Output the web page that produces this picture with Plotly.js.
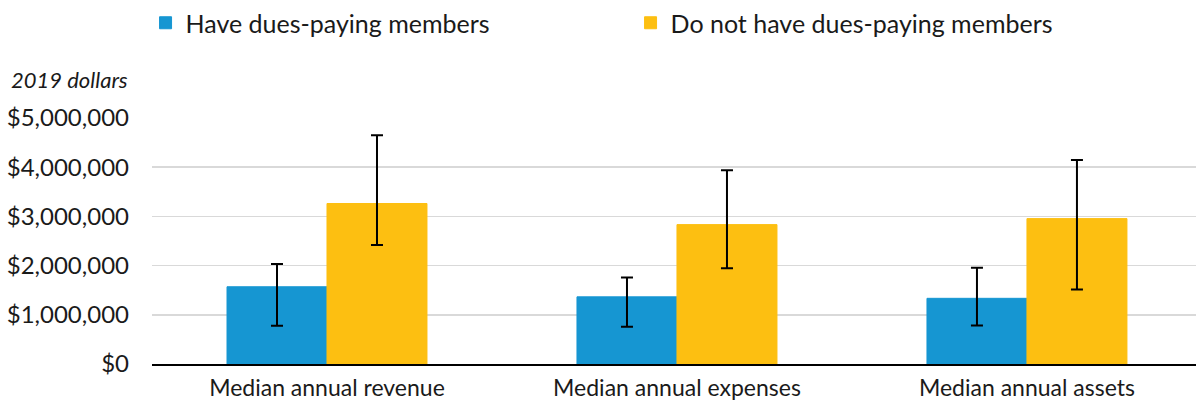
<!DOCTYPE html>
<html>
<head>
<meta charset="utf-8">
<script src="https://cdn.plot.ly/plotly-3.0.1.min.js"></script>
<style>
html,body{margin:0;padding:0;background:#fff;}
#chart{width:1196px;height:407px;}
</style>
</head>
<body>
<div id="chart"></div>
<script>
// Data (2019 dollars)
const categories = ["Median annual revenue", "Median annual expenses", "Median annual assets"];
const seriesNames = ["Have dues-paying members", "Do not have dues-paying members"];
const haveValues = [1570000, 1365000, 1335000];
const haveUpper  = [2030000, 1760000, 1957000];
const haveLower  = [775000, 755000, 782000];
const notValues  = [3262000, 2833000, 2955000];
const notUpper   = [4650000, 3940000, 4145000];
const notLower   = [2420000, 1944000, 1516000];
const yTickVals  = [0, 1000000, 2000000, 3000000, 4000000, 5000000];
const yTickText  = ["$0", "$1,000,000", "$2,000,000", "$3,000,000", "$4,000,000", "$5,000,000"];

const colors = ["#1696d2", "#fdbf11"];

function diff(a, b) { return a.map((v, i) => v - b[i]); }

const traces = [
  {
    type: "bar", name: seriesNames[0], x: categories, y: haveValues,
    marker: { color: colors[0], line: { color: colors[0], width: 1 } },
    error_y: { type: "data", symmetric: false, array: diff(haveUpper, haveValues),
               arrayminus: diff(haveValues, haveLower), color: "#000", thickness: 2, width: 6 },
    hoverinfo: "skip"
  },
  {
    type: "bar", name: seriesNames[1], x: categories, y: notValues,
    marker: { color: colors[1], line: { color: colors[1], width: 1 } },
    error_y: { type: "data", symmetric: false, array: diff(notUpper, notValues),
               arrayminus: diff(notValues, notLower), color: "#000", thickness: 2, width: 6 },
    hoverinfo: "skip"
  }
];

const layout = {
  width: 1196, height: 407,
  margin: { l: 152, r: 0, t: 118, b: 43, pad: 0 },
  paper_bgcolor: "#fff", plot_bgcolor: "#fff",
  font: { family: "Lato, 'Open Sans', sans-serif", color: "#1a1a1a", size: 21 },
  barmode: "group", bargap: 0.4286, bargroupgap: 0,
  showlegend: true,
  legend: {
    orientation: "h", xref: "container", yref: "container",
    x: 0.1217, xanchor: "left", y: 1.0, yanchor: "top",
    font: { size: 25, color: "#1a1a1a" },
    entrywidth: 440, entrywidthmode: "pixels",
    bgcolor: "rgba(0,0,0,0)"
  },
  xaxis: {
    type: "category", range: [-0.5, 2.483], fixedrange: true,
    showgrid: false, showline: true, linecolor: "#000", linewidth: 2,
    ticks: "", tickfont: { size: 23, color: "#1a1a1a" }, ticklabelstandoff: 2
  },
  yaxis: {
    range: [0, 5000000], fixedrange: true,
    tickvals: yTickVals, ticktext: yTickText,
    showgrid: true, gridcolor: "#d9d9d9", gridwidth: 1.5,
    zeroline: false, showline: false, ticks: "",
    tickfont: { size: 24, color: "#1a1a1a" }, ticklabelstandoff: 22
  },
  annotations: [
    { text: "<i>2019 dollars</i>", xref: "paper", yref: "paper", x: -0.021, y: 1.158,
      xanchor: "right", yanchor: "middle", showarrow: false,
      font: { size: 22, color: "#1a1a1a" } }
  ]
};

Plotly.newPlot("chart", traces, layout, { displayModeBar: false, staticPlot: true });
</script>
</body>
</html>
